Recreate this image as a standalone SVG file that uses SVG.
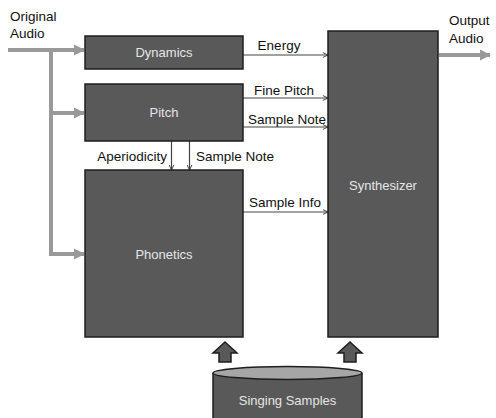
<svg xmlns="http://www.w3.org/2000/svg" width="496" height="418" viewBox="0 0 496 418">
<style>
.box{fill:#595959;stroke:#1e1e1e;stroke-width:1.5}
.bt{font-family:"Liberation Sans",Arial,sans-serif;font-size:13px;fill:#e6e6e6;text-anchor:middle}
.lbl{font-family:"Liberation Sans",Arial,sans-serif;font-size:13.5px;fill:#111}
.thick{stroke:#999;stroke-width:4;fill:none}
.thin{stroke:#444;stroke-width:1.2;fill:none;marker-end:url(#tip)}
.blk{fill:#595959;stroke:#1e1e1e;stroke-width:1.5}
</style>
<defs>
<marker id="gray" viewBox="0 0 10 10" refX="9" refY="5" markerWidth="2.8" markerHeight="3.4" orient="auto" markerUnits="strokeWidth">
<path d="M0,0 L10,5 L0,10 Z" fill="#999"/>
</marker>
<marker id="tip" viewBox="0 0 10 10" refX="9.5" refY="5" markerWidth="6" markerHeight="6" orient="auto" markerUnits="userSpaceOnUse">
<path d="M1,1 L9.5,5 L1,9" fill="none" stroke="#333" stroke-width="1.5"/>
</marker>
</defs>
<g id="connectors">
<path class="thick" d="M8,50 H84" marker-end="url(#gray)"/>
<path class="thick" d="M51,50 V254 H84" marker-end="url(#gray)"/>
<path class="thick" d="M51,113 H84" marker-end="url(#gray)"/>
<path class="thick" d="M439,55 H490" marker-end="url(#gray)"/>
<path class="thin" d="M243,55 H328"/>
<path class="thin" d="M243,98 H328"/>
<path class="thin" d="M243,127 H328"/>
<path class="thin" d="M243,212 H328"/>
<path class="thin" d="M171.5,141 V170"/>
<path class="thin" d="M189.5,141 V170"/>
<path class="blk" d="M225,342 L237,353 H231 V362 H219 V353 H213 Z"/>
<path class="blk" d="M350,342 L362,353 H356 V362 H344 V353 H338 Z"/>
</g>
<g id="labels">
<text class="lbl" x="10" y="21">Original</text>
<text class="lbl" x="10" y="38">Audio</text>
<text class="lbl" x="449" y="25">Output</text>
<text class="lbl" x="449" y="43">Audio</text>
<text class="lbl" x="279" y="50" text-anchor="middle">Energy</text>
<text class="lbl" x="284" y="95" text-anchor="middle">Fine Pitch</text>
<text class="lbl" x="287" y="124" text-anchor="middle">Sample Note</text>
<text class="lbl" x="167" y="161" text-anchor="end">Aperiodicity</text>
<text class="lbl" x="196" y="161">Sample Note</text>
<text class="lbl" x="285" y="207" text-anchor="middle">Sample Info</text>
</g>
<g id="dynamics">
<rect class="box" x="85" y="36" width="158" height="33"/>
<text class="bt" x="164" y="57">Dynamics</text>
</g>
<g id="pitch">
<rect class="box" x="85" y="84" width="158" height="57"/>
<text class="bt" x="164" y="117">Pitch</text>
</g>
<g id="phonetics">
<rect class="box" x="85" y="170" width="158" height="167"/>
<text class="bt" x="164" y="259">Phonetics</text>
</g>
<g id="synthesizer">
<rect class="box" x="328" y="31" width="110" height="306"/>
<text class="bt" x="383" y="190">Synthesizer</text>
</g>
<g id="singing-samples">
<path class="box" d="M213,373 V420 H362 V373"/>
<ellipse cx="287.5" cy="373" rx="74.5" ry="6.5" fill="#a6a6a6" stroke="#1e1e1e" stroke-width="1.5"/>
<text class="bt" x="287.5" y="405">Singing Samples</text>
</g>
</svg>
